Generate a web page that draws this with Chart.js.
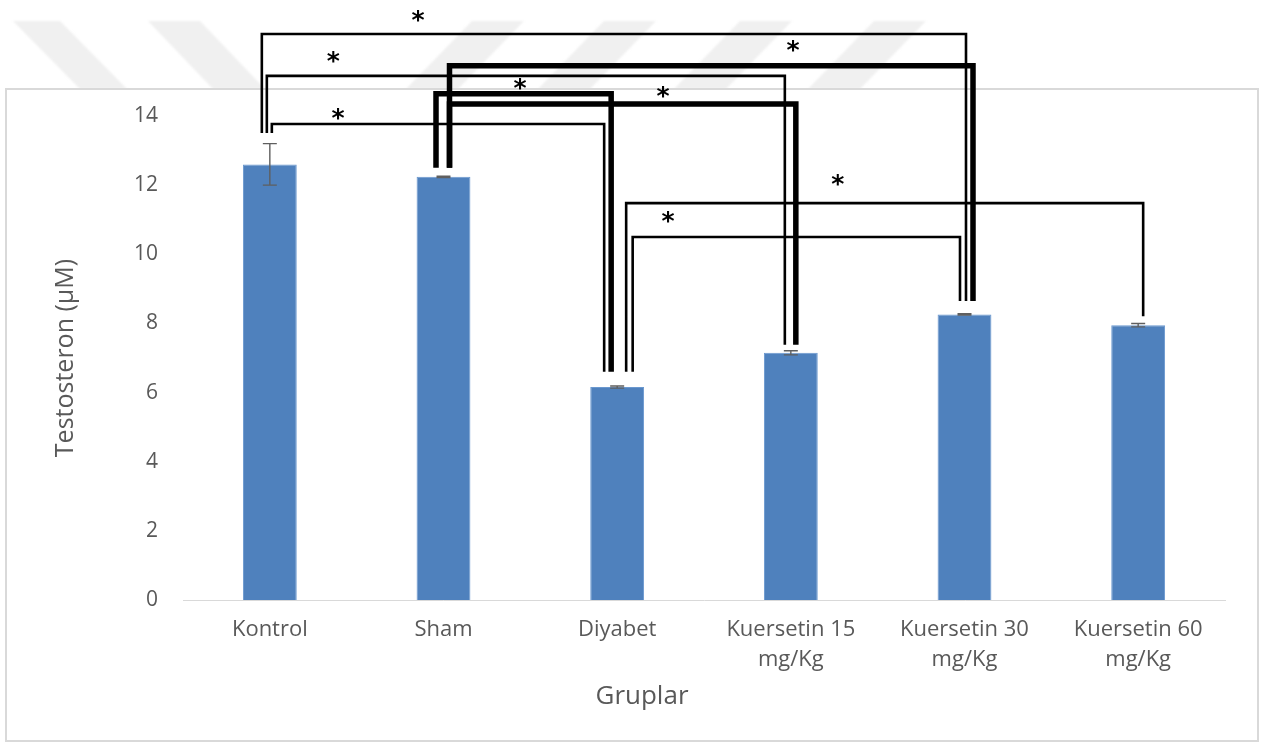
<!DOCTYPE html>
<html>
<head>
<meta charset="utf-8">
<title>Testosteron</title>
<script src="https://cdn.jsdelivr.net/npm/chart.js@4/dist/chart.umd.min.js"></script>
<style>
  html, body { margin: 0; padding: 0; background: #ffffff; }
  #wrap { width: 1269px; height: 744px; position: relative; }
</style>
</head>
<body>
<div id="wrap"><canvas id="c" width="1269" height="744"></canvas></div>
<script>
// Groups and measured testosterone (µM), with error (±)
const categories = [
  ['Kontrol'],
  ['Sham'],
  ['Diyabet'],
  ['Kuersetin 15', 'mg/Kg'],
  ['Kuersetin 30', 'mg/Kg'],
  ['Kuersetin 60', 'mg/Kg']
];
const testosteron = [12.6, 12.24, 6.16, 7.15, 8.26, 7.95];
const hata = [0.6, 0.02, 0.03, 0.06, 0.02, 0.05];
const yMin = 0;
const yMax = 14;
const yStep = 2;
const xTitle = 'Gruplar';
const yTitle = 'Testosteron (µM)';

// Significance brackets: [group A, group B, bracket level, end above A, end above B] (µM)
const pairs = [
  [0, 4, 16.37, 13.51, 8.65],
  [0, 3, 15.16, 13.51, 7.38],
  [0, 2, 13.77, 13.51, 6.60],
  [1, 2, 14.64, 12.50, 6.60],
  [1, 3, 14.35, 12.50, 7.38],
  [1, 4, 15.45, 12.50, 8.65],
  [2, 5, 11.48, 6.60, 8.21],
  [2, 4, 10.50, 6.60, 8.65]
];
// Asterisk for each bracket: [position on the group axis, level (µM)]
const stars = [
  [0.853, 16.89],
  [0.365, 15.68],
  [0.393, 14.03],
  [1.440, 14.90],
  [2.264, 14.67],
  [3.012, 16.00],
  [3.271, 12.12],
  [2.293, 11.05]
];
// Stroke width and horizontal nudges (px) of each bracket's two legs
const pairStyle = [
  { w: 2.6, dx: [-8, 1.5] },
  { w: 2.6, dx: [-3, -6] },
  { w: 2.6, dx: [2, -13] },
  { w: 5.5, dx: [-7.5, -6] },
  { w: 5.5, dx: [6, 5] },
  { w: 5.5, dx: [6, 8.5] },
  { w: 2.6, dx: [9, 5] },
  { w: 2.6, dx: [15.5, -4.5] }
];

const FONT = "'Open Sans', 'Noto Sans', sans-serif";
const GREY = '#595959';

// Page backdrop: white, faint stripe mark along the top, and the framed chart area
const backdrop = {
  id: 'backdrop',
  beforeDraw(chart) {
    const ctx = chart.ctx;
    ctx.save();
    ctx.fillStyle = '#ffffff';
    ctx.fillRect(0, 0, chart.width, chart.height);
    ctx.fillStyle = '#f0f0f0';
    ctx.filter = 'blur(1px)';
    const top = 21, bot = 89;
    const back = [[13, 60, 67], [148, 200, 65]];
    back.forEach(([a, b, s]) => {
      ctx.beginPath();
      ctx.moveTo(a, top); ctx.lineTo(b, top); ctx.lineTo(b + s, bot); ctx.lineTo(a + s, bot);
      ctx.closePath(); ctx.fill();
    });
    const fwd = [472, 604, 740, 874];
    fwd.forEach(a => {
      const b = a + 52, s = -66;
      ctx.beginPath();
      ctx.moveTo(a, top); ctx.lineTo(b, top); ctx.lineTo(b + s, bot); ctx.lineTo(a + s, bot);
      ctx.closePath(); ctx.fill();
    });
    ctx.filter = 'none';
    ctx.fillStyle = '#ffffff';
    ctx.fillRect(6, 89, 1252, 652);
    ctx.strokeStyle = '#d9d9d9';
    ctx.lineWidth = 2;
    ctx.strokeRect(6, 89, 1252, 652);
    ctx.restore();
  }
};

// Error bars, significance brackets, asterisks and the group-axis caption
const marks = {
  id: 'marks',
  afterDatasetsDraw(chart) {
    const ctx = chart.ctx;
    const xs = chart.scales.x, ys = chart.scales.y;
    const x0 = xs.getPixelForValue(0);
    const step = xs.getPixelForValue(1) - x0;
    ctx.save();

    // error bars
    ctx.strokeStyle = '#5f5f5f';
    ctx.lineWidth = 1.4;
    testosteron.forEach((v, i) => {
      const x = xs.getPixelForValue(i);
      const yt = ys.getPixelForValue(v + hata[i]);
      const yb = ys.getPixelForValue(v - hata[i]);
      ctx.beginPath();
      ctx.moveTo(x, yt); ctx.lineTo(x, yb);
      ctx.moveTo(x - 7, yt); ctx.lineTo(x + 7, yt);
      ctx.moveTo(x - 7, yb); ctx.lineTo(x + 7, yb);
      ctx.stroke();
    });

    // brackets
    ctx.strokeStyle = '#000000';
    ctx.lineJoin = 'miter';
    ctx.lineCap = 'butt';
    pairs.forEach(([a, b, level, endA, endB], k) => {
      const st = pairStyle[k];
      const xa = xs.getPixelForValue(a) + st.dx[0];
      const xb = xs.getPixelForValue(b) + st.dx[1];
      ctx.lineWidth = st.w;
      ctx.beginPath();
      ctx.moveTo(xa, ys.getPixelForValue(endA));
      ctx.lineTo(xa, ys.getPixelForValue(level));
      ctx.lineTo(xb, ys.getPixelForValue(level));
      ctx.lineTo(xb, ys.getPixelForValue(endB));
      ctx.stroke();
    });

    // asterisks
    ctx.fillStyle = '#000000';
    ctx.font = "bold 25px 'DejaVu Sans', sans-serif";
    ctx.textAlign = 'center';
    ctx.textBaseline = 'middle';
    stars.forEach(([pos, level]) => {
      ctx.fillText('*', x0 + pos * step, ys.getPixelForValue(level) + 5);
    });

    // group-axis caption, set slightly left of the axis middle
    ctx.fillStyle = GREY;
    ctx.font = '26px ' + FONT;
    ctx.fillText(xTitle, (chart.chartArea.left + chart.chartArea.right) / 2 - 62, 697);
    ctx.restore();
  }
};

new Chart(document.getElementById('c'), {
  type: 'bar',
  data: {
    labels: categories,
    datasets: [{
      label: yTitle,
      data: testosteron,
      backgroundColor: '#4f81bd',
      borderColor: '#6a98cf',
      borderWidth: 1,
      categoryPercentage: 1,
      barPercentage: 0.31
    }]
  },
  options: {
    responsive: false,
    animation: false,
    devicePixelRatio: 1,
    layout: { padding: { top: 116, right: 44, left: 0, bottom: 0 } },
    plugins: {
      legend: { display: false },
      tooltip: { enabled: false }
    },
    scales: {
      x: {
        grid: { display: false, drawTicks: false },
        border: { display: true, color: '#d9d9d9', width: 1 },
        ticks: {
          color: GREY,
          padding: 15,
          maxRotation: 0,
          autoSkip: false,
          font: { family: FONT, size: 22, lineHeight: 1.36 }
        },
        title: { display: false },
        afterFit(s) { s.height = 144; }
      },
      y: {
        min: yMin,
        max: yMax,
        grid: { display: false, drawTicks: false },
        border: { display: false },
        ticks: {
          stepSize: yStep,
          color: GREY,
          padding: 25,
          font: { family: FONT, size: 21 }
        },
        title: {
          display: true,
          text: yTitle,
          color: GREY,
          font: { family: FONT, size: 25, lineHeight: 1.2 },
          padding: { top: 51, bottom: 0 }
        },
        afterFit(s) { s.width = 183; }
      }
    }
  },
  plugins: [backdrop, marks]
});
</script>
</body>
</html>
